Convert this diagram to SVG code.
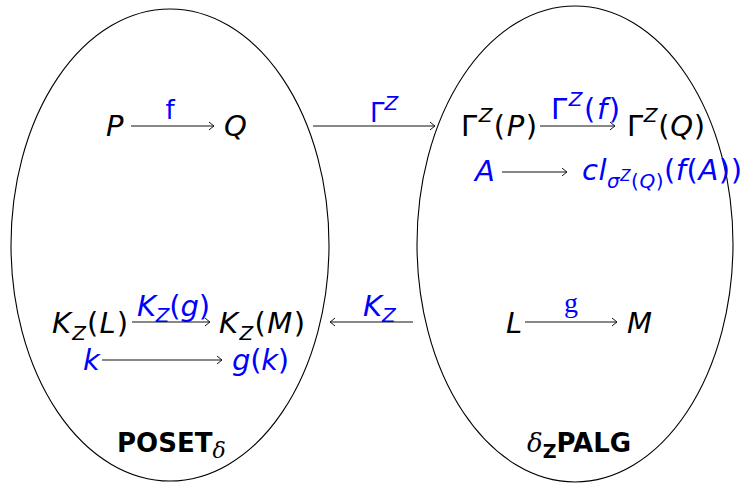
<svg xmlns="http://www.w3.org/2000/svg" width="744" height="486" viewBox="0 0 744 486">
<style>
.m{font-family:"DejaVu Sans",sans-serif;font-size:29px;fill:#000}
.i{font-style:italic}
.b{fill:#0000ff}
.l{font-size:26px}
.s{font-size:20px}
.ss{font-size:15px}
.c{stroke:#111;stroke-width:1;fill:none}
.e{stroke:#000;stroke-width:1.1;fill:none}
.bd{font-family:"DejaVu Sans",sans-serif;font-weight:bold;font-size:26px;fill:#000}
.sr{font-family:"DejaVu Serif","Liberation Serif",serif;font-style:italic}
</style>
<defs>
<marker id="ah" markerWidth="10" markerHeight="10" refX="0" refY="0" viewBox="-6 -5 8 10" orient="auto" markerUnits="userSpaceOnUse">
<path d="M-5,-4 Q-1.5,-1 0,0 Q-1.5,1 -5,4" fill="none" stroke="#111" stroke-width="1"/>
</marker>
</defs>
<g id="poset">
<ellipse class="e" cx="170" cy="245" rx="159" ry="236"/>
<text class="bd" x="117" y="452">POSET<tspan class="sr" font-weight="normal" font-size="22" dy="6">δ</tspan></text>
</g>
<g id="palg">
<ellipse class="e" cx="575" cy="244" rx="158" ry="238"/>
<text class="bd" x="527" y="452"><tspan class="sr" font-weight="normal">δ</tspan><tspan font-size="19" dy="6">Z</tspan><tspan dy="-6">PALG</tspan></text>
</g>
<g id="P"><text class="m i" x="106" y="136">P</text></g>
<g id="Q"><text class="m i" x="224" y="136">Q</text></g>
<g id="GP"><text class="m" x="461" y="136" textLength="76" lengthAdjust="spacing">Γ<tspan class="s i" dy="-14">Z</tspan><tspan dy="14">(</tspan><tspan class="i">P</tspan>)</text></g>
<g id="GQ"><text class="m" x="627" y="136" textLength="78" lengthAdjust="spacing">Γ<tspan class="s i" dy="-14">Z</tspan><tspan dy="14">(</tspan><tspan class="i">Q</tspan>)</text></g>
<g id="A"><text class="m i b" x="475" y="181">A</text></g>
<g id="cl"><text class="m b" x="582" y="180" textLength="160" lengthAdjust="spacing"><tspan class="i">cl</tspan><tspan class="s i" dy="8">σ</tspan><tspan class="ss i" dy="-7">Z</tspan><tspan class="s" dy="7">(</tspan><tspan class="s i">Q</tspan><tspan class="s">)</tspan><tspan dy="-8">(</tspan><tspan class="i">f</tspan>(<tspan class="i">A</tspan>))</text></g>
<g id="KL"><text class="m" x="52" y="333" textLength="76" lengthAdjust="spacing"><tspan class="i">K</tspan><tspan class="s i" dy="7">Z</tspan><tspan dy="-7">(</tspan><tspan class="i">L</tspan>)</text></g>
<g id="KM"><text class="m" x="219" y="333" textLength="86" lengthAdjust="spacing"><tspan class="i">K</tspan><tspan class="s i" dy="7">Z</tspan><tspan dy="-7">(</tspan><tspan class="i">M</tspan>)</text></g>
<g id="k"><text class="m i b" x="83" y="370">k</text></g>
<g id="gk"><text class="m b" x="232" y="370" textLength="57" lengthAdjust="spacing"><tspan class="i">g</tspan>(<tspan class="i">k</tspan>)</text></g>
<g id="L"><text class="m i" x="506" y="333">L</text></g>
<g id="M"><text class="m i" x="627" y="333">M</text></g>
<g id="connectors">
<line class="c" x1="131" y1="126" x2="214" y2="126" marker-end="url(#ah)"/>
<text class="m l b" x="170" y="119" text-anchor="middle">f</text>
<line class="c" x1="313" y1="126" x2="435" y2="126" marker-end="url(#ah)"/>
<text class="m l b" x="370" y="122">Γ<tspan class="s i" dy="-12">Z</tspan></text>
<line class="c" x1="540" y1="126" x2="615" y2="126" marker-end="url(#ah)"/>
<text class="m b" x="551" y="119" font-size="27" textLength="69" lengthAdjust="spacing">Γ<tspan class="s i" dy="-13">Z</tspan><tspan dy="13">(</tspan><tspan class="i">f</tspan>)</text>
<line class="c" x1="502" y1="172" x2="567" y2="172" marker-end="url(#ah)"/>
<line class="c" x1="132" y1="322" x2="210" y2="322" marker-end="url(#ah)"/>
<text class="m b" x="137" y="316" font-size="27" textLength="73" lengthAdjust="spacing"><tspan class="i">K</tspan><tspan class="s i" dy="6">Z</tspan><tspan dy="-6">(</tspan><tspan class="i">g</tspan>)</text>
<line class="c" x1="102" y1="360" x2="222" y2="360" marker-end="url(#ah)"/>
<line class="c" x1="413" y1="322" x2="330" y2="322" marker-end="url(#ah)"/>
<text class="m b" x="363" y="316" font-size="27"><tspan class="i">K</tspan><tspan class="s i" dy="6">Z</tspan></text>
<line class="c" x1="525" y1="322" x2="617" y2="322" marker-end="url(#ah)"/>
<text class="b" x="571" y="312" font-family="Liberation Serif,serif" font-size="28" text-anchor="middle">g</text>
</g>
</svg>
